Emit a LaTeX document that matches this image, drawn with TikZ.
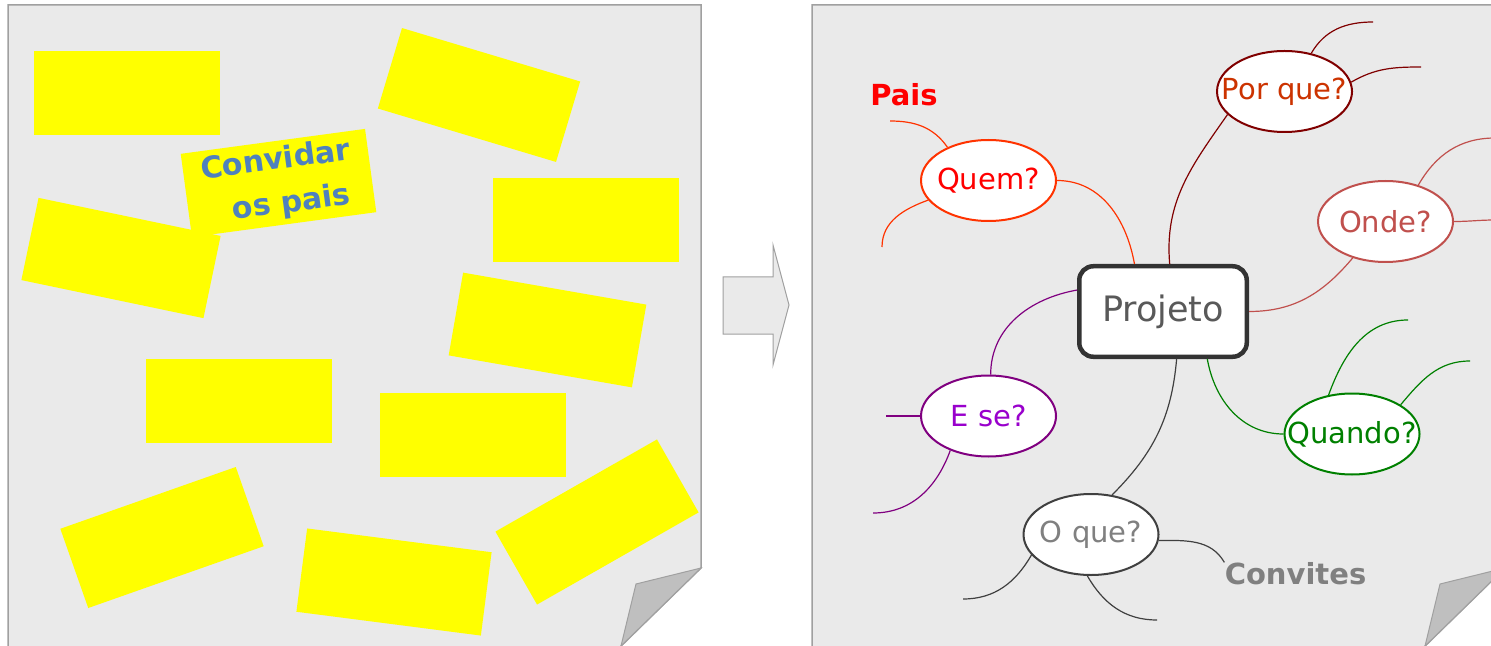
\documentclass[tikz,border=0pt]{standalone}
\usepackage{fontspec}
\setmainfont{DejaVu Sans}
\usetikzlibrary{shapes.geometric}

\definecolor{pagegray}{HTML}{EAEAEA}
\definecolor{foldgray}{HTML}{BFBFBF}
\definecolor{edgegray}{HTML}{A0A0A0}
\definecolor{notefill}{HTML}{FFFF00}
\definecolor{noteblue}{HTML}{4F81BD}
\definecolor{hubline}{HTML}{333333}
\definecolor{hubtext}{HTML}{595959}
\definecolor{quemline}{HTML}{FF3300}
\definecolor{porqueline}{HTML}{800000}
\definecolor{porquetext}{HTML}{CC3300}
\definecolor{onde}{HTML}{C0504D}
\definecolor{quando}{HTML}{008000}
\definecolor{eseline}{HTML}{800080}
\definecolor{esetext}{HTML}{9900CC}
\definecolor{oqueline}{HTML}{404040}
\definecolor{oquetext}{HTML}{808080}

% keep the bubble text from widening the ellipse
\newcommand\bubble[1]{\makebox[0pt]{#1}}

\begin{document}
\begin{tikzpicture}[x=0.5pt, y=-0.5pt,
  sticky/.style={rectangle, fill=notefill, minimum width=93pt, minimum height=42pt, inner sep=0pt},
  question/.style={ellipse, draw, line width=1pt, fill=white, minimum width=67.5pt, minimum height=40.5pt, inner sep=0pt, font=\fontsize{14.5}{17}\selectfont},
  branch/.style={line width=0.6pt},
  tag/.style={inner sep=0pt, font=\bfseries\fontsize{14.5}{17}\selectfont}]
\useasboundingbox (0,0) rectangle (1491,646);
\clip (0,0) rectangle (1491,646);

% the two sheets with a dog-eared corner
\foreach \dx in {0,804} {
  \draw[edgegray, line width=0.75pt, fill=pagegray] (8+\dx,650) -- (8+\dx,5) -- (701+\dx,5) -- (701+\dx,568) -- (617+\dx,650);
  \draw[edgegray, line width=0.5pt, fill=foldgray] (701+\dx,568) -- (636+\dx,584) -- (621+\dx,646) -- cycle;
}

% block arrow between the sheets
\draw[edgegray, line width=0.5pt, fill=pagegray] (723,277) -- (773,277) -- (773,245) -- (789,305) -- (773,365) -- (773,334) -- (723,334) -- cycle;

% sticky notes
\node[sticky] (s1) at (127,93) {};
\node[sticky, rotate=-16.7] (s2) at (479,95) {};
\node[sticky, rotate=7.7, text=noteblue, align=center, font=\bfseries\fontsize{15}{22}\selectfont] (invite) at (278.5,183) {Convidar\\\hspace*{10pt}os pais};
\node[sticky, rotate=-11.8] (s3) at (121,258) {};
\node[sticky] (s4) at (585.5,220) {};
\node[sticky, rotate=-9.9] (s5) at (547.5,330) {};
\node[sticky] (s6) at (239,400.5) {};
\node[sticky] (s7) at (472.5,435) {};
\node[sticky, rotate=19.4] (s8) at (162,537.5) {};
\node[sticky, rotate=-7.35] (s9) at (394,582) {};
\node[sticky, rotate=29.7] (s10) at (597,522) {};

% mind map
\node[draw=hubline, line width=2.25pt, rounded corners=7pt, fill=white, minimum width=83.75pt, minimum height=45.25pt, text=hubtext, font=\fontsize{17.5}{20}\selectfont] (projeto) at (1163,311.5) {Projeto};

\node[question, draw=quemline, text=red] (quem) at (988.5,180.5) {\bubble{Quem?}};
\node[question, draw=porqueline, text=porquetext] (porque) at (1284.5,91.5) {\bubble{Por que?}};
\node[question, draw=onde, text=onde] (onde) at (1385.5,221.5) {\bubble{Onde?}};
\node[question, draw=quando, text=quando] (quando) at (1352,434) {\bubble{Quando?}};
\node[question, draw=eseline, text=esetext] (ese) at (988.5,416) {\bubble{E se?}};
\node[question, draw=oqueline, text=oquetext] (oque) at (1091,534.5) {\bubble{O que?}};

\node[tag, text=red] (pais) at (904,95) {Pais};
\node[tag, text=oquetext] (convites) at (1295.5,574) {Convites};

\coordinate (quem1) at (890,121);
\coordinate (quem2) at (882,247);
\coordinate (porque1) at (1373,22);
\coordinate (porque2) at (1421,67);
\coordinate (onde1) at (1495,138);
\coordinate (onde2) at (1495,220);
\coordinate (quando1) at (1408,320);
\coordinate (quando2) at (1470,361);
\coordinate (ese1) at (886,416);
\coordinate (ese2) at (873,513);
\coordinate (oque1) at (963,599);
\coordinate (oque2) at (1157,620);

\draw[branch, quemline] (projeto.121) to[out=100, in=0] (quem.east);
\draw[branch, quemline] (quem.141) to[out=125, in=0] (quem1);
\draw[branch, quemline] (quem.198) to[out=200, in=90] (quem2);

\draw[branch, porqueline] (projeto.82) to[out=95, in=235] (porque.202);
\draw[branch, porqueline] (porque.55) to[out=60, in=180] (porque1);
\draw[branch, porqueline] (porque.8) to[out=30, in=180] (porque2);

\draw[branch, onde] (projeto.east) to[out=0, in=230] (onde.228);
\draw[branch, onde] (onde.48) to[out=60, in=180] (onde1);
\draw[branch, onde] (onde.east) to[out=0, in=180] (onde2);

\draw[branch, quando] (projeto.-47) to[out=-80, in=180] (quando.west);
\draw[branch, quando] (quando.121) to[out=70, in=180] (quando1);
\draw[branch, quando] (quando.31) to[out=50, in=180] (quando2);

\draw[branch, eseline] (projeto.166) to[out=190, in=90] (ese.87);
\draw[branch, eseline] (ese.west) -- (ese1);
\draw[branch, eseline] (ese.222) to[out=250, in=0] (ese2);

\draw[branch, oqueline] (projeto.-74) to[out=-95, in=45] (oque.62);
\draw[branch, oqueline] (oque.199) to[out=240, in=0] (oque1);
\draw[branch, oqueline] (oque.265) to[out=-60, in=180] (oque2);
\draw[branch, oqueline] (oque.-5) to[out=0, in=120] (convites.north west);
\end{tikzpicture}
\end{document}
